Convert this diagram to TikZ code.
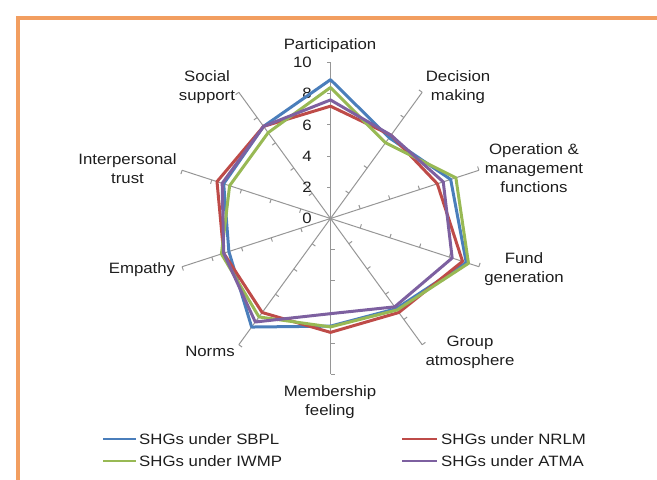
\documentclass[tikz,border=0pt]{standalone}
\usepackage{fontspec}
\setmainfont{Liberation Sans}[FakeStretch=1.12]
\begin{document}
\begin{tikzpicture}[x=1pt,y=1pt]
\definecolor{frameorange}{RGB}{242,158,96}
\definecolor{axisgray}{RGB}{150,150,150}
\definecolor{txt}{RGB}{30,30,30}
\definecolor{sbpl}{RGB}{74,126,187}
\definecolor{nrlm}{RGB}{190,75,72}
\definecolor{iwmp}{RGB}{152,185,84}
\definecolor{atma}{RGB}{125,96,160}
\tikzset{
  axisline/.style={draw=axisgray,line width=1pt},
  series/.style={line width=3pt,line join=round},
  lbl/.style={font=\fontsize{15}{19}\selectfont,text=txt,align=center,inner sep=0pt},
  ticklbl/.style={font=\fontsize{15}{18}\selectfont,text=txt,inner sep=0pt,anchor=east},
  legline/.style={line width=2.5pt},
  legtxt/.style={font=\fontsize{15}{18}\selectfont,text=txt,inner sep=0pt,anchor=west}
}
\useasboundingbox (0,0) rectangle (657,480);
% orange frame
\draw[frameorange,line width=3.5pt] (18,-5) -- (18,462) -- (670,462);
% radar chart
\begin{scope}[shift={(330.5,261.5)}]
  \foreach \a in {90,54,18,-18,-54,-90,-126,-162,162,126}{
    \draw[axisline] (0,0) -- (\a:156pt);
    \foreach \k in {1,...,5}{
      \draw[axisline] (\a:\k*31.2pt) -- ++(\a+90:4pt);
    }
  }
  \foreach \k in {0,...,5}{
    \pgfmathtruncatemacro\val{2*\k}
    \node[ticklbl] (t\k) at (-18.5,\k*31.2) {\val};
  }
  \def\u{15.6pt}
  \draw[series,sbpl] (90:8.9*\u) -- (54:6.4*\u) -- (18:8.1*\u) -- (-18:9.15*\u) -- (-54:7.15*\u) -- (-90:6.9*\u) -- (-126:8.6*\u) -- (-162:6.85*\u) -- (162:7.2*\u) -- (126:7.3*\u) -- cycle;
  \draw[series,nrlm] (90:7.2*\u) -- (54:6.6*\u) -- (18:7.2*\u) -- (-18:8.9*\u) -- (-54:7.45*\u) -- (-90:7.3*\u) -- (-126:7.45*\u) -- (-162:7.2*\u) -- (162:7.65*\u) -- (126:7.3*\u) -- cycle;
  \draw[series,iwmp] (90:8.4*\u) -- (54:6.0*\u) -- (18:8.45*\u) -- (-18:9.3*\u) -- (-54:7.25*\u) -- (-90:6.95*\u) -- (-126:7.8*\u) -- (-162:7.35*\u) -- (162:6.8*\u) -- (126:6.8*\u) -- cycle;
  \draw[series,atma] (90:7.6*\u) -- (54:6.6*\u) -- (18:7.6*\u) -- (-18:8.2*\u) -- (-54:7.0*\u) -- (-90:6.1*\u) -- (-126:8.2*\u) -- (-162:7.2*\u) -- (162:7.3*\u) -- (126:7.3*\u) -- cycle;
\end{scope}
% category labels (y = 480 - image y)
\node[lbl] (part) at (330,434) {Participation};
\node[lbl] (dec) at (458,392.5) {Decision\\making};
\node[lbl] (oper) at (534,311.7) {Operation \&\\management\\functions};
\node[lbl] (fund) at (524,210.5) {Fund\\generation};
\node[lbl] (grp) at (470,128) {Group\\atmosphere};
\node[lbl] (memb) at (330,77.5) {Membership\\feeling};
\node[lbl] (norms) at (210,129) {Norms};
\node[lbl] (emp) at (142,210) {Empathy};
\node[lbl] (trust) at (127.5,311) {Interpersonal\\trust};
\node[lbl] (soc) at (207,392.5) {Social\\support};
% legend
\coordinate (l1a) at (103,41); \coordinate (l1b) at (136,41);
\coordinate (l2a) at (402,41); \coordinate (l2b) at (437,41);
\coordinate (l3a) at (103,19); \coordinate (l3b) at (136,19);
\coordinate (l4a) at (402,19); \coordinate (l4b) at (437,19);
\draw[legline,sbpl] (l1a) -- (l1b);
\draw[legline,nrlm] (l2a) -- (l2b);
\draw[legline,iwmp] (l3a) -- (l3b);
\draw[legline,atma] (l4a) -- (l4b);
\node[legtxt] (g1) at (139,41) {SHGs under SBPL};
\node[legtxt] (g2) at (441,41) {SHGs under NRLM};
\node[legtxt] (g3) at (139,19) {SHGs under IWMP};
\node[legtxt] (g4) at (441,19) {SHGs under ATMA};
\end{tikzpicture}
\end{document}
